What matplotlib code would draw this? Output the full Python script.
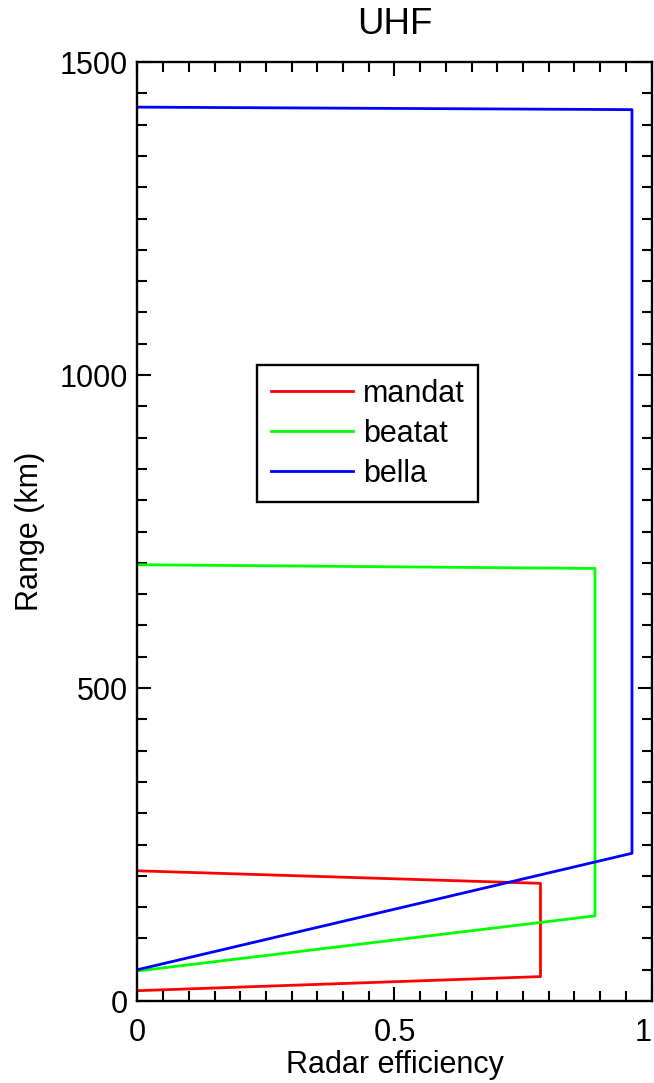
import matplotlib
matplotlib.use("Agg")
import matplotlib.pyplot as plt
from matplotlib.ticker import MultipleLocator, FixedLocator, FixedFormatter

# efficiency/range outline of each experiment: low edge -> max -> high edge
mandat_eff = [0.0, 0.784, 0.784, 0.0]
mandat_range = [16.5, 39.0, 188.0, 208.0]

beatat_eff = [0.0, 0.890, 0.890, 0.0]
beatat_range = [48.0, 136.0, 691.0, 697.0]

bella_eff = [0.0, 0.962, 0.962, 0.0]
bella_range = [50.0, 236.0, 1424.0, 1428.0]

x_ticks = [0.0, 0.5, 1.0]
x_labels = ["0", "0.5", "1"]
y_ticks = [0, 500, 1000, 1500]
y_labels = ["0", "500", "1000", "1500"]

plt.rcParams["font.family"] = ["Liberation Sans", "DejaVu Sans"]
plt.rcParams["font.size"] = 22

fig = plt.figure(figsize=(6.54, 10.83), dpi=100)
ax = fig.add_axes([0.2102, 0.0757, 0.7860, 0.8670])

lw = 2.0
ax.plot(mandat_eff, mandat_range, color="#ff0000", lw=lw, label="mandat")
ax.plot(beatat_eff, beatat_range, color="#00ff00", lw=lw, label="beatat")
ax.plot(bella_eff, bella_range, color="#0000ff", lw=lw, label="bella")

ax.set_xlim(0, 1)
ax.set_ylim(0, 1500)

ax.xaxis.set_major_locator(FixedLocator(x_ticks))
ax.xaxis.set_major_formatter(FixedFormatter(x_labels))
ax.yaxis.set_major_locator(FixedLocator(y_ticks))
ax.yaxis.set_major_formatter(FixedFormatter(y_labels))
ax.xaxis.set_minor_locator(MultipleLocator(0.05))
ax.yaxis.set_minor_locator(MultipleLocator(50))

ax.tick_params(which="both", direction="in", top=True, right=True,
               width=1.5, color="black")
ax.tick_params(which="major", length=10)
ax.tick_params(which="minor", length=7)
ax.tick_params(axis="y", which="major", pad=7)
ax.tick_params(axis="x", which="major", pad=12)

# last x label sits on the figure edge; keep it inside
ax.get_xticklabels()[-1].set_horizontalalignment("right")

for sp in ax.spines.values():
    sp.set_linewidth(1.7)

ax.set_title("UHF", pad=20)
ax.set_xlabel("Radar efficiency", labelpad=2)
ax.set_ylabel("Range (km)", labelpad=10)

leg = ax.legend(loc="upper left", bbox_to_anchor=(0.233, 0.677),
                borderaxespad=0, frameon=True, fancybox=False,
                framealpha=1, edgecolor="black", handlelength=2.7,
                handletextpad=0.3, labelspacing=0.32, borderpad=0.45)
leg.get_frame().set_linewidth(1.7)
for line in leg.get_lines():
    line.set_linewidth(2.0)

fig.savefig("out.png", dpi=100)
